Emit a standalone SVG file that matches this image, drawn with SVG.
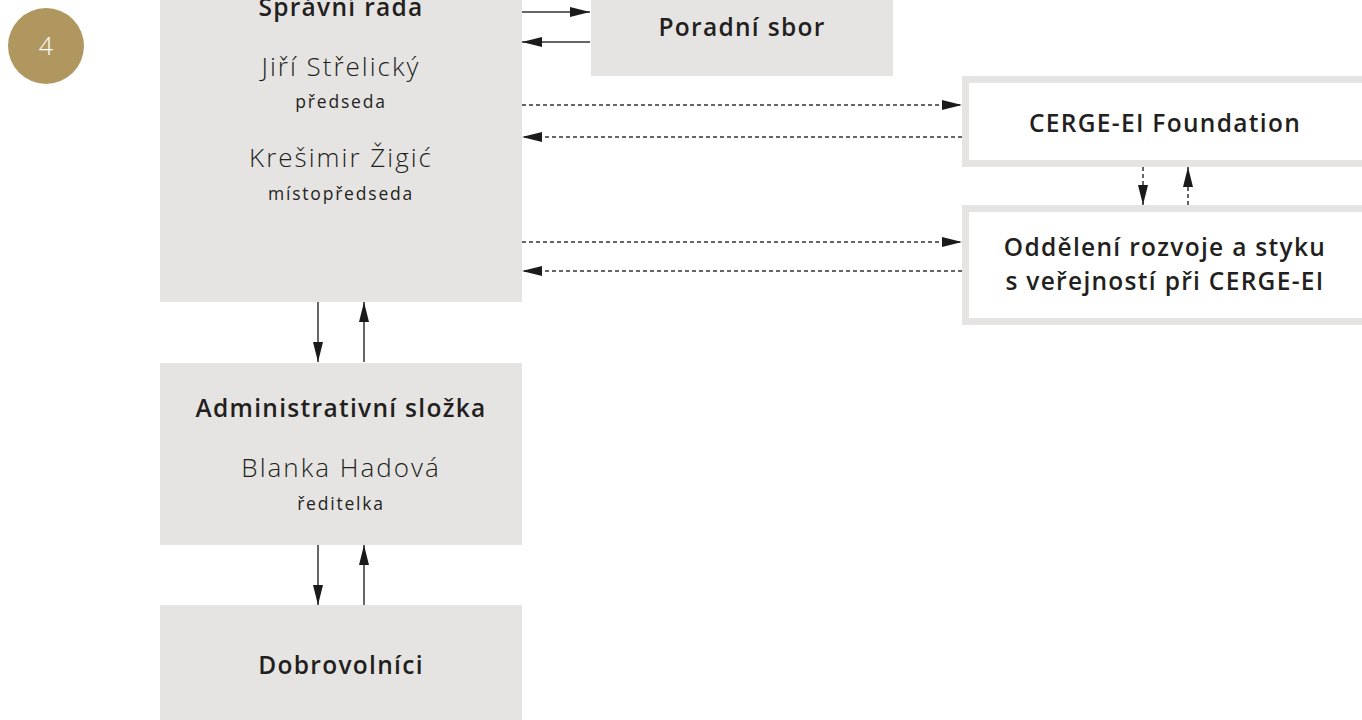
<svg xmlns="http://www.w3.org/2000/svg" width="1362" height="720" viewBox="0 0 1362 720">
<defs>
<marker id="ah" viewBox="0 0 20 10" refX="20" refY="5" markerWidth="20" markerHeight="10" markerUnits="userSpaceOnUse" orient="auto">
<path d="M0,0 L20,5 L0,10 Z" fill="#1a1a1a"/>
</marker>
<style>
.box{fill:#e5e4e2}
.obox{fill:#fff;stroke:#e5e4e2;stroke-width:7}
.t{font-family:"Open Sans","Noto Sans","Liberation Sans",sans-serif;fill:#231f20;text-anchor:middle}
.b{font-weight:600;font-size:24.5px;letter-spacing:1.3px}
.n{font-weight:300;font-size:26px;letter-spacing:2px}
.s{font-weight:normal;font-size:17.5px;letter-spacing:1.8px}
.c{stroke:#333;stroke-width:1.5;fill:none;marker-end:url(#ah)}
.d{stroke-dasharray:4 3}
</style>
</defs>
<g id="badge">
<circle cx="46" cy="46" r="38" fill="#b09760"/>
<text x="46" y="55" class="t" style="fill:#fff;font-size:25px;font-weight:300">4</text>
</g>
<g id="spravni-rada">
<rect class="box" x="160" y="-20" width="362" height="322"/>
<text x="341" y="16" class="t b">Správní rada</text>
<text x="341" y="76" class="t n">Jiří Střelický</text>
<text x="341" y="108" class="t s">předseda</text>
<text x="341" y="167" class="t n">Krešimir Žigić</text>
<text x="341" y="200" class="t s">místopředseda</text>
</g>
<g id="poradni-sbor">
<rect class="box" x="591" y="-20" width="302" height="96"/>
<text x="742" y="36" class="t b">Poradní sbor</text>
</g>
<g id="foundation">
<rect class="obox" x="965.5" y="79.5" width="404" height="84"/>
<text x="1165" y="132" class="t b">CERGE-EI Foundation</text>
</g>
<g id="oddeleni">
<rect class="obox" x="965.5" y="208.5" width="404" height="113"/>
<text x="1165" y="256" class="t b">Oddělení rozvoje a styku</text>
<text x="1165" y="290" class="t b">s veřejností při CERGE-EI</text>
</g>
<g id="administrativni-slozka">
<rect class="box" x="160" y="363" width="362" height="182"/>
<text x="341" y="417" class="t b">Administrativní složka</text>
<text x="341" y="477" class="t n">Blanka Hadová</text>
<text x="341" y="510" class="t s">ředitelka</text>
</g>
<g id="dobrovolnici">
<rect class="box" x="160" y="605" width="362" height="125"/>
<text x="341" y="674" class="t b">Dobrovolníci</text>
</g>
<g id="connectors">
<line class="c" x1="522" y1="12" x2="590" y2="12"/>
<line class="c" x1="590" y1="42" x2="522" y2="42"/>
<line class="c d" x1="522" y1="105" x2="962" y2="105"/>
<line class="c d" x1="962" y1="137" x2="522" y2="137"/>
<line class="c d" x1="522" y1="242" x2="962" y2="242"/>
<line class="c d" x1="962" y1="271" x2="522" y2="271"/>
<line class="c d" x1="1143" y1="167" x2="1143" y2="205"/>
<line class="c d" x1="1188" y1="205" x2="1188" y2="167"/>
<line class="c" x1="318" y1="302" x2="318" y2="362"/>
<line class="c" x1="364" y1="362" x2="364" y2="302"/>
<line class="c" x1="318" y1="545" x2="318" y2="605"/>
<line class="c" x1="364" y1="605" x2="364" y2="545"/>
</g>
</svg>
